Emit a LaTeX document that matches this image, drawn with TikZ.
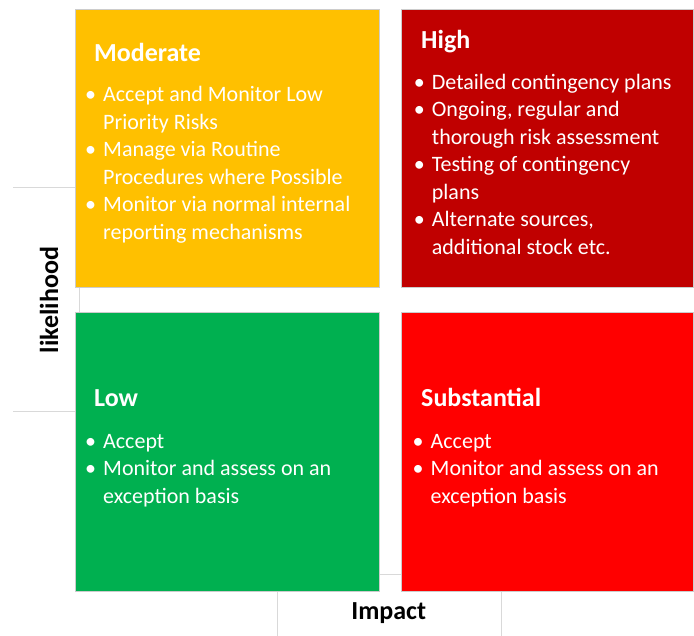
\documentclass[tikz,border=0pt]{standalone}
\usepackage{fontspec}
\setmainfont{Carlito}
\usepackage{array}
\definecolor{modcol}{HTML}{FFC000}
\definecolor{highcol}{HTML}{C00000}
\definecolor{lowcol}{HTML}{00B050}
\definecolor{subcol}{HTML}{FF0000}
\definecolor{gridcol}{HTML}{D9D9D9}
\newcommand{\bul}{\makebox[18pt][l]{\textbullet}}

\begin{document}
\begin{tikzpicture}[x=1pt, y=-1pt,
  quad/.style={rectangle, inner sep=0pt, anchor=north west, minimum width=304pt, minimum height=278pt, draw=black!20, line width=0.6pt},
  qtitle/.style={anchor=base west, inner sep=0pt, text=white, font=\fontsize{26}{31}\selectfont\bfseries},
  qlist/.style={anchor=base west, inner sep=0pt, text=white, font=\fontsize{22}{27.5}\selectfont},
  axislabel/.style={inner sep=0pt, anchor=base, font=\fontsize{26}{31}\selectfont\bfseries},
  gridline/.style={draw=gridcol, line width=0.8pt}]
	\useasboundingbox (0,0) rectangle (694,636);
	% grid behind the boxes
	\draw[gridline] (13,187) -- (75,187);
	\draw[gridline] (13,411) -- (75,411);
	\draw[gridline] (79,287) -- (79,312);
	\draw[gridline] (379,574) -- (401,574);
	\draw[gridline] (277,591) -- (277,636);
	\draw[gridline] (501,591) -- (501,636);
	% the four quadrants
	\node[quad, fill=modcol] (mod) at (75,9) {};
	\node[quad, fill=highcol, minimum width=292pt] (high) at (401,9) {};
	\node[quad, fill=lowcol, minimum height=279pt] (low) at (75,312) {};
	\node[quad, fill=subcol, minimum width=292pt, minimum height=279pt] (sub) at (401,312) {};
	% Moderate
	\node[qtitle] (modtitle) at (94,62) {Moderate};
	\node[qlist] (modlist) at (85,101.7) {\begin{tabular}[t]{@{}l@{}l@{}}
	  \bul & Accept and Monitor Low\\
	       & Priority Risks\\
	  \bul & Manage via Routine\\
	       & Procedures where Possible\\
	  \bul & Monitor via normal internal\\
	       & reporting mechanisms
	\end{tabular}};
	% High
	\node[qtitle] (hightitle) at (421,49) {High};
	\node[qlist] (highlist) at (413.7,89.3) {\begin{tabular}[t]{@{}l@{}l@{}}
	  \bul & Detailed contingency plans\\
	  \bul & Ongoing, regular and\\
	       & thorough risk assessment\\
	  \bul & Testing of contingency\\
	       & plans\\
	  \bul & Alternate sources,\\
	       & additional stock etc.
	\end{tabular}};
	% Low
	\node[qtitle] (lowtitle) at (94,406.7) {Low};
	\node[qlist] (lowlist) at (85,448.3) {\begin{tabular}[t]{@{}l@{}l@{}}
	  \bul & Accept\\
	  \bul & Monitor and assess on an\\
	       & exception basis
	\end{tabular}};
	% Substantial
	\node[qtitle] (subtitle) at (421,406.7) {Substantial};
	\node[qlist] (sublist) at (412.5,448.3) {\begin{tabular}[t]{@{}l@{}l@{}}
	  \bul & Accept\\
	  \bul & Monitor and assess on an\\
	       & exception basis
	\end{tabular}};
	% axes
	\node[axislabel, rotate=90] (likely) at (58,300) {likelihood};
	\node[axislabel] (impact) at (388.7,619) {Impact};
\end{tikzpicture}
\end{document}
